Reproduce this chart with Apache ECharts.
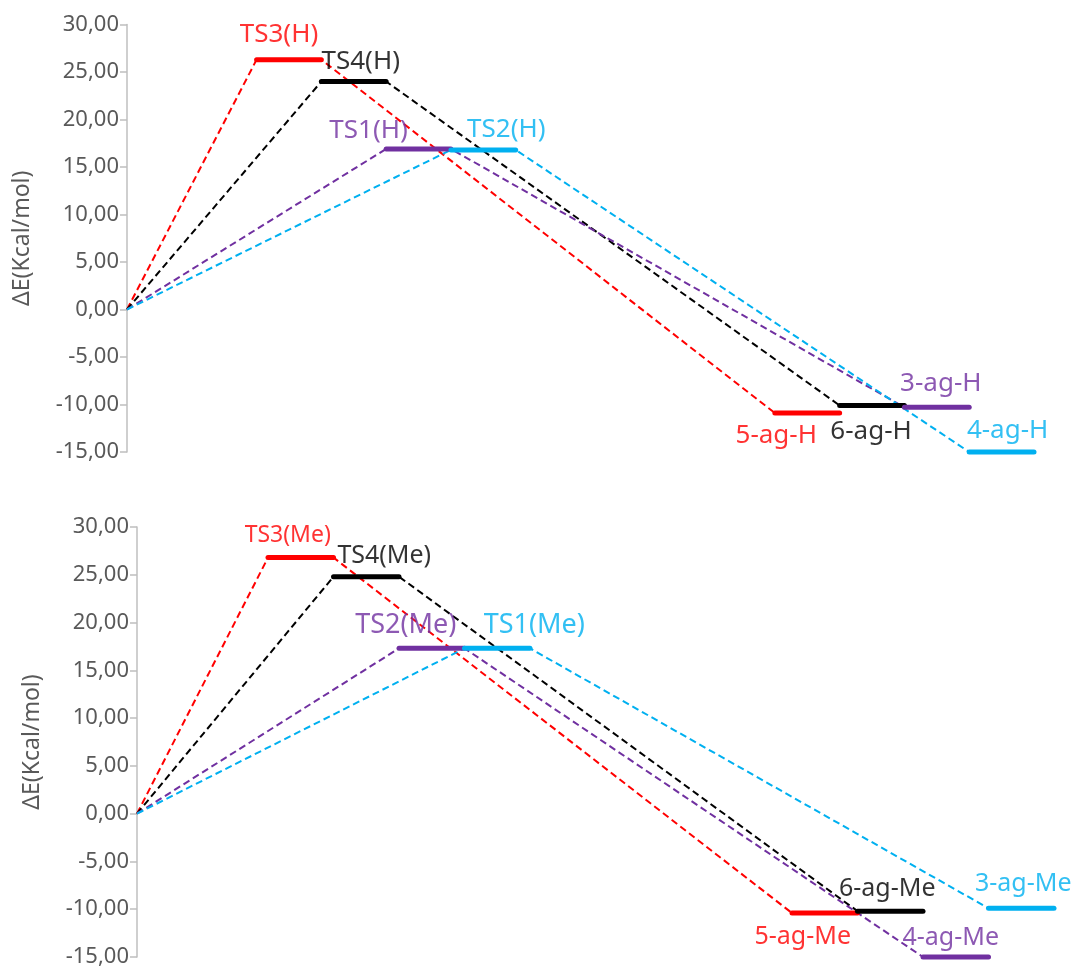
<!DOCTYPE html>
<html>
<head>
<meta charset="utf-8">
<title>Energy profiles</title>
<script src="https://cdn.jsdelivr.net/npm/echarts@6/dist/echarts.min.js"></script>
<style>
  html, body { margin: 0; padding: 0; background: #ffffff; }
  #chart { width: 1082px; height: 969px; }
</style>
</head>
<body>
<div id="chart"></div>
<script>
// Relative energies (kcal/mol), one entry per pathway, start level is 0
const topTsNames = ['TS3(H)', 'TS4(H)', 'TS1(H)', 'TS2(H)'];
const topTsEnergy = [26.3, 24.0, 16.9, 16.8];
const topProdNames = ['5-ag-H', '6-ag-H', '3-ag-H', '4-ag-H'];
const topProdEnergy = [-10.9, -10.1, -10.3, -15.0];

const botTsNames = ['TS3(Me)', 'TS4(Me)', 'TS2(Me)', 'TS1(Me)'];
const botTsEnergy = [26.8, 24.8, 17.3, 17.3];
const botProdNames = ['5-ag-Me', '6-ag-Me', '4-ag-Me', '3-ag-Me'];
const botProdEnergy = [-10.4, -10.2, -15.0, -9.9];

// Energy axis
const yMin = -15;
const yMax = 30;
const yStep = 5;

// Styling / layout
const pathColors = ['#ff0000', '#000000', '#7030a0', '#00b0f0'];
const FONT = '"Noto Sans", "Open Sans", sans-serif';
// label offsets (px) relative to the middle of each level bar: TS levels then products
const topTsOffsets = [[-10, -25], [7, -20], [-50, -18], [23, -20]];
const topProdOffsets = [[-31, 23], [-1, 26], [4, -24], [6, -21]];
const botTsOffsets = [[-13, -22], [18, -21], [-26, -23], [37, -23]];
const botProdOffsets = [[-22, 24], [-3, -22], [-5, -19], [2, -24]];
const topFont = 26;
const botTsFont = [23, 25, 27, 27];
const botProdFont = 25;

const TS_SLOT0 = 2;    // first transition-state slot on the reaction coordinate
const PROD_SLOT0 = 10; // first product slot

function fmt(v) {
  return v.toFixed(2).replace('.', ',');
}

function buildPanel(idx, tsNames, tsE, prodNames, prodE, tsOff, prodOff, tsFont, prodFont) {
  const series = [];
  const labelData = [];
  tsE.forEach(function (ts, i) {
    const s = TS_SLOT0 + i;
    const p = PROD_SLOT0 + i;
    const pe = prodE[i];
    const color = pathColors[i];
    // dashed connector along the whole path
    series.push({
      type: 'line', xAxisIndex: idx, yAxisIndex: idx,
      data: [[0, 0], [s, ts], [s + 1, ts], [p, pe], [p + 1, pe]],
      symbol: 'none', clip: false, silent: true, z: 2,
      lineStyle: { color: color, width: 2, type: [7, 4] }
    });
    // solid level bars
    [[s, ts], [p, pe]].forEach(function (lv) {
      series.push({
        type: 'line', xAxisIndex: idx, yAxisIndex: idx,
        data: [[lv[0], lv[1]], [lv[0] + 1, lv[1]]],
        symbol: 'none', clip: false, silent: true, z: 3,
        lineStyle: { color: color, width: 5, cap: 'round' }
      });
    });
    const tsSize = Array.isArray(tsFont) ? tsFont[i] : tsFont;
    const prSize = Array.isArray(prodFont) ? prodFont[i] : prodFont;
    labelData.push({
      value: [s + 0.5, ts], name: tsNames[i],
      label: { color: color, fontSize: tsSize, offset: tsOff[i] }
    });
    labelData.push({
      value: [p + 0.5, pe], name: prodNames[i],
      label: { color: color, fontSize: prSize, offset: prodOff[i] }
    });
  });
  series.push({
    type: 'scatter', xAxisIndex: idx, yAxisIndex: idx,
    data: labelData, symbolSize: 0, silent: true, clip: false, z: 5,
    label: {
      show: true, position: 'inside', fontFamily: FONT,
      formatter: function (p) { return p.name; }
    }
  });
  return series;
}

function yAxisFor(idx) {
  return {
    type: 'value', gridIndex: idx, min: yMin, max: yMax, interval: yStep,
    name: 'ΔE(Kcal/mol)', nameLocation: 'middle', nameGap: 93, nameRotate: 90,
    nameTextStyle: { color: '#595959', fontSize: 23, fontFamily: FONT },
    axisLine: { show: true, lineStyle: { color: '#bfbfbf', width: 1.5 } },
    axisTick: { show: true, inside: false, length: 7, lineStyle: { color: '#bfbfbf', width: 1.5 } },
    axisLabel: { color: '#595959', fontSize: 22, fontFamily: FONT, margin: 8, formatter: fmt },
    splitLine: { show: false }
  };
}

function xAxisFor(idx) {
  return {
    type: 'value', gridIndex: idx, min: 0, max: 14,
    show: false, splitLine: { show: false }
  };
}

const chart = echarts.init(document.getElementById('chart'), null, { renderer: 'canvas' });
chart.setOption({
  backgroundColor: '#ffffff',
  animation: false,
  grid: [
    { left: 127, right: 48, top: 24.5, height: 427.5 },
    { left: 137, right: 28, top: 527, height: 430 }
  ],
  xAxis: [xAxisFor(0), xAxisFor(1)],
  yAxis: [yAxisFor(0), yAxisFor(1)],
  series: [].concat(
    buildPanel(0, topTsNames, topTsEnergy, topProdNames, topProdEnergy,
      topTsOffsets, topProdOffsets, topFont, topFont),
    buildPanel(1, botTsNames, botTsEnergy, botProdNames, botProdEnergy,
      botTsOffsets, botProdOffsets, botTsFont, botProdFont)
  )
});
</script>
</body>
</html>
